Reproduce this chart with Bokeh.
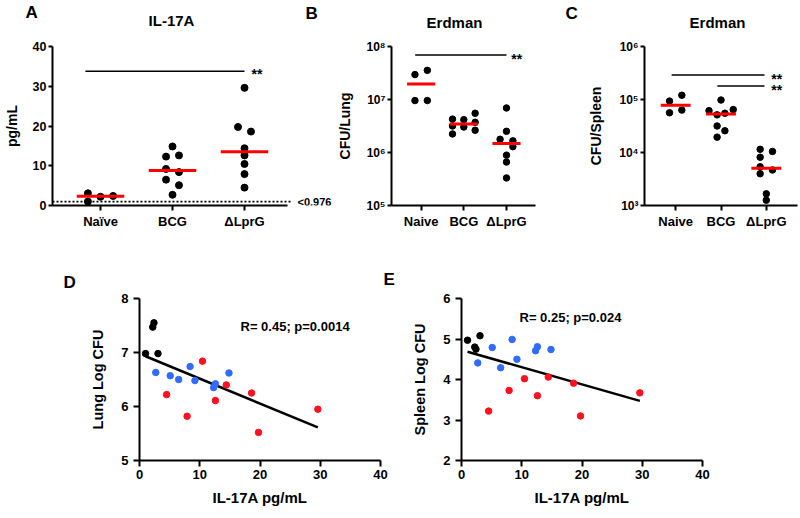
import math
import numpy as np
from bokeh.plotting import figure
from bokeh.models import Range1d, FixedTicker, Label, CustomJSTickFormatter
from bokeh.layouts import column, row
from bokeh.embed import file_html
from bokeh.resources import INLINE

# ---------------- data (per mouse, paired across panels) ----------------
groups_a = ["Naïve", "BCG", "ΔLprG"]
groups_bc = ["Naive", "BCG", "ΔLprG"]

naive_il17 = [1.0, 2.2, 2.4, 3.07]
naive_lung = [6.98, 7.47, 7.55, 6.98]      # log10 CFU / lung
naive_spleen = [4.97, 4.80, 4.75, 5.08]    # log10 CFU / spleen

bcg_il17 = [2.7, 5.1, 6.5, 8.4, 9.2, 12.3, 12.6, 14.85]
bcg_lung = [6.63, 6.57, 6.50, 6.74, 6.48, 6.35, 6.42, 6.62]
bcg_spleen = [4.41, 4.79, 4.29, 4.99, 4.50, 4.71, 4.81, 4.74]

lprg_il17 = [4.5, 7.9, 10.45, 12.6, 14.4, 18.6, 19.75, 29.6]
lprg_lung = [6.22, 5.82, 6.84, 6.11, 6.40, 6.25, 5.52, 5.95]
lprg_spleen = [3.22, 3.73, 4.02, 3.60, 4.06, 3.91, 3.10, 3.67]

detection_limit = 0.976
stats_d = "R= 0.45; p=0.0014"
stats_e = "R= 0.25; p=0.024"
titles = ["IL-17A", "Erdman", "Erdman"]
letters = ["A", "B", "C", "D", "E"]

# horizontal scatter offsets (layout only)
jit_a = [[-0.175, 0, 0.175, -0.175],
         [0, 0.09, -0.09, 0.09, -0.09, -0.09, 0.09, 0],
         [0, 0, 0, 0, 0, 0.09, -0.09, 0]]
jit_b = [[-0.145, -0.145, 0.145, 0.145],
         [-0.265, 0.265, -0.265, 0.265, 0, -0.265, 0.265, 0],
         [0.15, 0, 0, 0.15, 0, -0.15, 0, 0]]
jit_c = [[-0.136, 0.136, -0.136, 0.136],
         [0.086, -0.265, -0.086, 0, -0.086, -0.086, 0.27, 0.086],
         [0, -0.136, 0.136, -0.136, -0.136, -0.136, 0, 0.136]]

FONT = "Liberation Sans"
RED = "#FF1020"
BLUE = "#2F6BFF"


def to_data(spec, px, py):
    L, R, T, B = spec["frame"]
    x0, x1 = spec["x"]
    y0, y1 = spec["y"]
    x = x0 + (px - L) / (R - L) * (x1 - x0)
    if spec.get("log"):
        ly0, ly1 = math.log10(y0), math.log10(y1)
        y = 10 ** (ly0 + (B - py) / (B - T) * (ly1 - ly0))
    else:
        y = y0 + (B - py) / (B - T) * (y1 - y0)
    return x, y


def label(p, x, y, text, size, align="left", baseline="middle"):
    p.add_layout(Label(x=x, y=y, text=text, text_font=FONT, text_font_style="bold",
                       text_font_size=size, text_align=align, text_baseline=baseline,
                       text_color="black"))


def add_text(p, spec, px, py, text, size, align="left", baseline="middle"):
    x, y = to_data(spec, px, py)
    label(p, x, y, text, size, align, baseline)


def strip(w, h):
    p = figure(width=w, height=h, x_range=Range1d(0, w), y_range=Range1d(h, 0),
               x_axis_location=None, y_axis_location=None, title=None,
               output_backend="svg", toolbar_location=None, min_border=0)
    p.xgrid.visible = False
    p.ygrid.visible = False
    p.outline_line_color = None
    p.border_fill_color = "white"
    return p


def make_fig(spec, w, h, borders):
    l, r, t, b = borders
    p = figure(width=w, height=h, x_range=Range1d(*spec["x"]), y_range=Range1d(*spec["y"]),
               y_axis_type="log" if spec.get("log") else "linear", title=None,
               output_backend="svg", toolbar_location=None,
               min_border_left=l, min_border_right=r, min_border_top=t, min_border_bottom=b)
    p.xgrid.visible = False
    p.ygrid.visible = False
    p.outline_line_color = None
    p.background_fill_color = "white"
    p.border_fill_color = "white"
    for ax in (p.xaxis[0], p.yaxis[0]):
        ax.axis_line_width = 2
        ax.axis_line_color = "black"
        ax.major_tick_line_width = 2
        ax.major_tick_line_color = "black"
        ax.major_tick_in = 0
        ax.minor_tick_line_color = None
        ax.major_label_text_font = FONT
        ax.major_label_text_font_style = "bold"
        ax.major_label_text_color = "black"
        ax.axis_label_text_font = FONT
        ax.axis_label_text_font_style = "bold"
        ax.axis_label_text_color = "black"
    return p


def cat_axis(p, labels):
    ax = p.xaxis[0]
    ax.ticker = FixedTicker(ticks=[1, 2, 3], minor_ticks=[])
    ax.major_label_overrides = {1: labels[0], 2: labels[1], 3: labels[2]}
    ax.major_tick_out = 5
    ax.major_label_standoff = 3
    ax.major_label_text_font_size = "13px"


def dot_panel(p, values, jit, size, transform=None):
    for i, (vals, js) in enumerate(zip(values, jit)):
        xs = [i + 1 + j for j in js]
        ys = [transform(v) if transform else v for v in vals]
        p.scatter(xs, ys, size=size, color="black", line_color="black")
        med = float(np.median(ys))
        p.segment(x0=[i + 1 - 0.33], x1=[i + 1 + 0.33], y0=[med], y1=[med],
                  line_color="#FF0000", line_width=3)


pow10 = lambda v: 10 ** v
sup = "{3:'\u00b3',4:'\u2074',5:'\u2075',6:'\u2076',7:'\u2077',8:'\u2078'}"
log_fmt = CustomJSTickFormatter(code="const s=" + sup + "; const e=Math.round(Math.log10(tick)); return '10'+s[e];")

# ---------------- top strip: letters and titles (page y 0-30) ----------------
top = strip(800, 30)
label(top, 25, 12, letters[0], "17px")
label(top, 305, 13, letters[1], "17px")
label(top, 565, 12.5, letters[2], "17px")
label(top, 171, 20, titles[0], "15px", align="center")
label(top, 454, 21.5, titles[1], "15px", align="center")
label(top, 717, 22, titles[2], "15px", align="center")

# ---------------- Panel A (canvas page y 30-240) ----------------
specA = dict(frame=(52, 334, 45, 206), x=(0.333, 4.25), y=(0, 40))
pA = make_fig(specA, 334, 210, (52, 0, 15, 34))
cat_axis(pA, groups_a)
pA.xaxis[0].bounds = (0.333, 3.597)
pA.yaxis[0].ticker = FixedTicker(ticks=[0, 10, 20, 30, 40], minor_ticks=[])
pA.yaxis[0].major_tick_out = 4
pA.yaxis[0].major_label_standoff = 2
pA.yaxis[0].major_label_text_font_size = "12.5px"
pA.yaxis[0].axis_label = "pg/mL"
pA.yaxis[0].axis_label_text_font_size = "14px"
pA.yaxis[0].axis_label_standoff = 10
pA.segment(x0=[0.333], x1=[3.667], y0=[detection_limit], y1=[detection_limit],
           line_color="black", line_width=1.6, line_dash="2 2")
dot_panel(pA, [naive_il17, bcg_il17, lprg_il17], jit_a, 7)
pA.segment(x0=[0.79], x1=[3.0], y0=[33.8], y1=[33.8], line_color="black", line_width=1.5)
add_text(pA, specA, 251, 72.5, "**", "14px")
add_text(pA, specA, 297, 202, "<" + str(detection_limit), "11px")

# ---------------- Panel B ----------------
specB = dict(frame=(386, 535, 46, 205), x=(0.305, 3.68), y=(1e5, 1e8), log=True)
pB = make_fig(specB, 251, 210, (52, 50, 16, 35))
cat_axis(pB, groups_bc)
pB.yaxis[0].ticker = FixedTicker(ticks=[1e5, 1e6, 1e7, 1e8], minor_ticks=[])
pB.yaxis[0].formatter = log_fmt
pB.yaxis[0].major_tick_out = 4
pB.yaxis[0].major_label_standoff = 2
pB.yaxis[0].major_label_text_font_size = "12px"
pB.yaxis[0].axis_label = "CFU/Lung"
pB.yaxis[0].axis_label_text_font_size = "14px"
pB.yaxis[0].axis_label_standoff = 10
dot_panel(pB, [naive_lung, bcg_lung, lprg_lung], jit_b, 6.5, pow10)
pB.segment(x0=[0.86], x1=[3.0], y0=[6.9e7], y1=[6.9e7], line_color="black", line_width=1.5)
add_text(pB, specB, 510, 58, "**", "14px")

# ---------------- Panel C ----------------
specC = dict(frame=(640, 797, 45, 205), x=(0.312, 3.688), y=(1e3, 1e6), log=True)
pC = make_fig(specC, 215, 210, (55, 3, 15, 35))
cat_axis(pC, groups_bc)
pC.yaxis[0].ticker = FixedTicker(ticks=[1e3, 1e4, 1e5, 1e6], minor_ticks=[])
pC.yaxis[0].formatter = log_fmt
pC.yaxis[0].major_tick_out = 4
pC.yaxis[0].major_label_standoff = 2
pC.yaxis[0].major_label_text_font_size = "12px"
pC.yaxis[0].axis_label = "CFU/Spleen"
pC.yaxis[0].axis_label_text_font_size = "14px"
pC.yaxis[0].axis_label_standoff = 12
dot_panel(pC, [naive_spleen, bcg_spleen, lprg_spleen], jit_c, 6.5, pow10)
pC.segment(x0=[0.91, 1.92], x1=[2.96, 2.96], y0=[2.9e5, 1.8e5], y1=[2.9e5, 1.8e5],
           line_color="black", line_width=1.5)
add_text(pC, specC, 770, 78, "**", "14px")
add_text(pC, specC, 770, 89, "**", "14px")

# ---------------- middle strip: letters D, E (page y 240-292) ----------------
mid = strip(800, 52)
label(mid, 63, 42, letters[3], "17px")
label(mid, 383, 39, letters[4], "17px")


# ---------------- Panels D / E (canvas page y 292-518) ----------------
def corr_panel(spec, w, borders, yvals, ylabel, yticks, stats, stats_xy):
    p = make_fig(spec, w, 226, borders)
    p.xaxis[0].ticker = FixedTicker(ticks=[0, 10, 20, 30, 40], minor_ticks=[])
    p.yaxis[0].ticker = FixedTicker(ticks=yticks, minor_ticks=[])
    for ax in (p.xaxis[0], p.yaxis[0]):
        ax.major_tick_out = 6
        ax.major_label_text_font_size = "13px"
    p.xaxis[0].major_label_standoff = 3
    p.yaxis[0].major_label_standoff = 5
    p.xaxis[0].axis_label = "IL-17A pg/mL"
    p.xaxis[0].axis_label_text_font_size = "15px"
    p.xaxis[0].axis_label_standoff = 7
    p.yaxis[0].axis_label = ylabel
    p.yaxis[0].axis_label_text_font_size = "14.5px"
    p.yaxis[0].axis_label_standoff = 12
    xs_all = naive_il17 + bcg_il17 + lprg_il17
    ys_all = yvals[0] + yvals[1] + yvals[2]
    slope, icpt = np.polyfit(xs_all, ys_all, 1)
    x0, x1 = min(xs_all), max(xs_all)
    p.line([x0, x1], [icpt + slope * x0, icpt + slope * x1], line_color="black", line_width=2.5)
    p.scatter(bcg_il17, yvals[1], size=6.5, color=BLUE)
    p.scatter(lprg_il17, yvals[2], size=6.5, color=RED)
    p.scatter(naive_il17, yvals[0], size=6.5, color="black")
    add_text(p, spec, stats_xy[0], stats_xy[1], stats, "13px")
    return p


specD = dict(frame=(139, 380, 298, 460), x=(0, 40), y=(5, 8))
pD = corr_panel(specD, 400, (139, 20, 6, 58), [naive_lung, bcg_lung, lprg_lung],
                "Lung Log CFU", [5, 6, 7, 8], stats_d, (240, 326))
specE = dict(frame=(461, 702, 298, 460), x=(0, 40), y=(2, 6))
pE = corr_panel(specE, 400, (61, 98, 6, 58), [naive_spleen, bcg_spleen, lprg_spleen],
                "Spleen Log CFU", [2, 3, 4, 5, 6], stats_e, (519, 317))

layout = column(top, row(pA, pB, pC), mid, row(pD, pE))
open("out.html", "w").write(file_html(layout, INLINE))
